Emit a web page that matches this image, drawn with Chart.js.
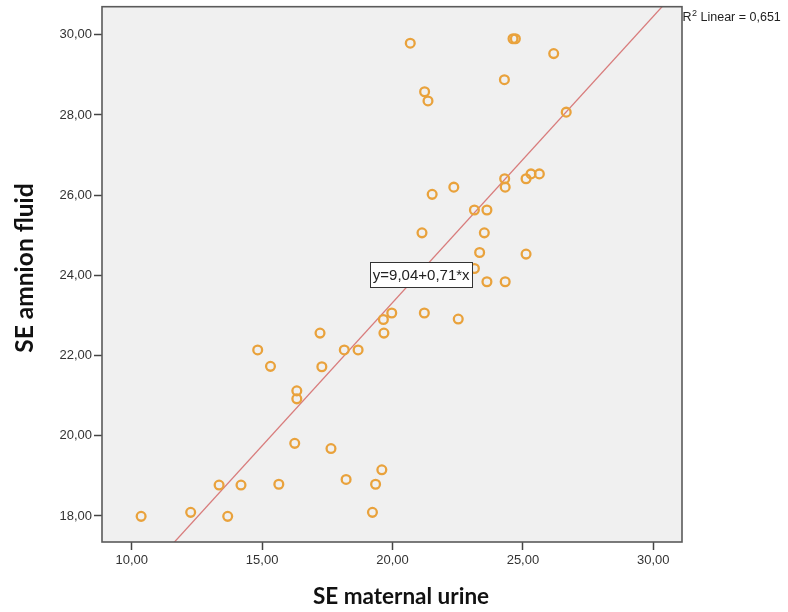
<!DOCTYPE html>
<html>
<head>
<meta charset="utf-8">
<script src="https://cdn.jsdelivr.net/npm/chart.js@4.4.1/dist/chart.umd.min.js"></script>
<style>
  html, body { margin: 0; padding: 0; background: #ffffff; }
  #wrap { width: 788px; height: 612px; }
</style>
</head>
<body>
<div id="wrap"><canvas id="c" width="788" height="612"></canvas></div>
<script>
// ---- data ----
const maternalUrine = [10.36, 12.26, 13.35, 13.68, 14.19, 14.83, 15.32, 15.64, 16.25, 16.33,
  16.33, 17.22, 17.29, 17.64, 18.15, 18.22, 18.68, 19.23, 19.35, 19.59,
  19.65, 19.67, 19.97, 20.68, 21.22, 21.13, 21.23, 21.36, 21.52, 22.35,
  22.52, 23.14, 23.14, 23.34, 23.52, 23.62, 23.62, 24.29, 24.30, 24.32,
  24.32, 24.62, 24.71, 25.12, 25.12, 25.31, 25.63, 26.18, 26.66];
const amnionFluid = [17.99, 18.09, 18.77, 17.99, 18.77, 22.14, 21.73, 18.79, 19.81, 21.12,
  20.92, 22.56, 21.72, 19.68, 22.14, 18.91, 22.14, 18.09, 18.79, 19.15,
  22.90, 22.56, 23.06, 29.79, 23.06, 25.06, 28.58, 28.35, 26.02, 26.20,
  22.91, 25.63, 24.17, 24.57, 25.06, 25.63, 23.84, 28.88, 26.41, 26.20,
  23.84, 29.90, 29.90, 24.53, 26.41, 26.53, 26.53, 29.53, 28.07];
const xTickValues = [10, 15, 20, 25, 30];
const yTickValues = [18, 20, 22, 24, 26, 28, 30];
const xRange = [8.86, 31.10];
const yRange = [17.35, 30.70];
const fitIntercept = 9.04;
const fitSlope = 0.714;
const fitLabel = 'y=9,04+0,71*x';
const fitLabelPos = { x: 21.10, y: 24.02 };
const r2Text = ' Linear = 0,651';
const xTitle = 'SE maternal urine';
const yTitle = 'SE amnion fluid';

const fmt = v => v.toFixed(2).replace('.', ',');
const points = maternalUrine.map((x, i) => ({ x: x, y: amnionFluid[i] }));
const fitLine = [
  { x: xRange[0], y: fitIntercept + fitSlope * xRange[0] },
  { x: xRange[1], y: fitIntercept + fitSlope * xRange[1] }
];

const decor = {
  id: 'decor',
  beforeDraw(chart) {
    const { ctx, chartArea: a } = chart;
    ctx.save();
    ctx.fillStyle = '#f0f0f0';
    ctx.fillRect(a.left, a.top, a.right - a.left, a.bottom - a.top);
    ctx.restore();
  },
  afterDraw(chart) {
    const { ctx, chartArea: a, scales } = chart;
    ctx.save();
    // frame
    ctx.strokeStyle = '#5a5a5a';
    ctx.lineWidth = 1.6;
    ctx.strokeRect(a.left, a.top, a.right - a.left, a.bottom - a.top);

    // equation box
    const cx = scales.x.getPixelForValue(fitLabelPos.x);
    const cy = scales.y.getPixelForValue(fitLabelPos.y);
    ctx.font = '15px "Liberation Sans", Arial, sans-serif';
    const tw = ctx.measureText(fitLabel).width;
    const bw = tw + 5, bh = 25;
    ctx.fillStyle = '#ffffff';
    ctx.fillRect(cx - bw / 2, cy - bh / 2, bw, bh);
    ctx.strokeStyle = '#333333';
    ctx.lineWidth = 1;
    ctx.strokeRect(Math.round(cx - bw / 2) + 0.5, Math.round(cy - bh / 2) + 0.5, Math.round(bw), bh);
    ctx.fillStyle = '#222222';
    ctx.textAlign = 'center';
    ctx.textBaseline = 'middle';
    ctx.fillText(fitLabel, cx, cy + 1);

    // R2 label
    ctx.textAlign = 'left';
    ctx.textBaseline = 'alphabetic';
    ctx.fillStyle = '#222222';
    ctx.font = '12.5px "Liberation Sans", Arial, sans-serif';
    let x0 = a.right + 0.5;
    ctx.fillText('R', x0, 21);
    x0 += ctx.measureText('R').width;
    ctx.font = '9px "Liberation Sans", Arial, sans-serif';
    ctx.fillText('2', x0 + 0.5, 16);
    x0 += ctx.measureText('2').width + 0.5;
    ctx.font = '12.5px "Liberation Sans", Arial, sans-serif';
    ctx.fillText(r2Text, x0, 21);

    // axis titles
    ctx.fillStyle = '#111111';
    ctx.textAlign = 'center';
    ctx.font = 'bold 22.5px Lato, "Open Sans", sans-serif';
    ctx.fillText(xTitle, 401, 604);
    ctx.font = 'bold 24.5px Lato, "Open Sans", sans-serif';
    ctx.translate(33, 268);
    ctx.rotate(-Math.PI / 2);
    ctx.fillText(yTitle, 0, 0);
    ctx.restore();
  }
};

new Chart(document.getElementById('c'), {
  type: 'scatter',
  data: {
    datasets: [
      {
        type: 'line',
        data: fitLine,
        borderColor: '#d87c7c',
        borderWidth: 1.3,
        pointRadius: 0,
        fill: false,
        order: 2
      },
      {
        data: points,
        pointRadius: 4.4,
        pointBorderWidth: 2.3,
        pointBorderColor: '#e9a23c',
        pointBackgroundColor: 'rgba(0,0,0,0)',
        order: 1
      }
    ]
  },
  plugins: [decor],
  options: {
    responsive: false,
    animation: false,
    events: [],
    layout: { padding: { left: 0, right: 106, top: 3, bottom: 0 } },
    plugins: { legend: { display: false }, tooltip: { enabled: false } },
    scales: {
      x: {
        type: 'linear',
        min: xRange[0],
        max: xRange[1],
        afterBuildTicks: s => { s.ticks = xTickValues.map(v => ({ value: v })); },
        afterFit: s => { s.height = 70; s.paddingLeft = 0; s.paddingRight = 0; },
        grid: { drawOnChartArea: false, drawTicks: true, tickLength: 8, color: '#444', tickWidth: 1.5 },
        border: { display: false },
        ticks: {
          padding: 3,
          color: '#333',
          font: { family: '"Liberation Sans", Arial, sans-serif', size: 13 },
          callback: v => fmt(v),
          maxRotation: 0
        }
      },
      y: {
        type: 'linear',
        min: yRange[0],
        max: yRange[1],
        afterBuildTicks: s => { s.ticks = yTickValues.map(v => ({ value: v })); },
        afterFit: s => { s.width = 102; s.paddingTop = 0; s.paddingBottom = 0; },
        grid: { drawOnChartArea: false, drawTicks: true, tickLength: 8, color: '#444', tickWidth: 1.5 },
        border: { display: false },
        ticks: {
          padding: 2,
          color: '#333',
          font: { family: '"Liberation Sans", Arial, sans-serif', size: 13 },
          callback: v => fmt(v)
        }
      }
    }
  }
});
</script>
</body>
</html>
